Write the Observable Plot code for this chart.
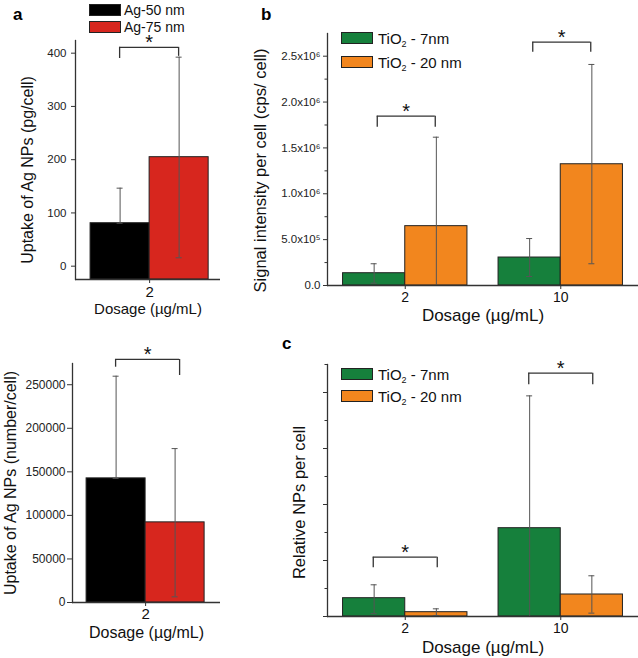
<!DOCTYPE html>
<html><head><meta charset="utf-8">
<script src="https://cdn.jsdelivr.net/npm/d3@7"></script>
<script src="https://cdn.jsdelivr.net/npm/@observablehq/plot@0.6"></script>
<style>
body{margin:0;background:#fff;font-family:"Liberation Sans",Arial,sans-serif}
#fig{position:relative;width:638px;height:658px;overflow:hidden;background:#fff}
.lab{position:absolute;font-weight:bold;font-size:17px;line-height:1;color:#000}
.sw{position:absolute;box-sizing:border-box;border:1px solid #222}
.lt{position:absolute;line-height:1;white-space:nowrap;color:#111;transform:translateY(-50%)}
.lt sub{font-size:9px;line-height:0;vertical-align:-3px}
</style></head><body><div id="fig"></div>
<script>
// ---------------- data ----------------
const agDoses = ["2"];
const agSizes = ["Ag-50 nm", "Ag-75 nm"];
const massPerCell = [80.7, 204.7];          // pg/cell
const massErrHigh = [146.5, 392.5];
const massErrLow = [80.7, 15.8];
const numberPerCell = [142500, 92000];      // number/cell
const numberErrHigh = [259800, 176700];
const numberErrLow = [142500, 6500];

const tioDoses = ["2", "10"];
const tioSizes = ["TiO₂ - 7nm", "TiO₂ - 20 nm"];
const signal7 = [0.134e6, 0.305e6];
const signal7High = [0.237e6, 0.512e6];
const signal7Low = [0.025e6, 0.098e6];
const signal20 = [0.647e6, 1.322e6];
const signal20High = [1.617e6, 2.41e6];
const signal20Low = [0, 0.237e6];
const rel7 = [0.327, 1.577];
const rel7High = [0.566, 3.94];
const rel7Low = [0.05, 0];
const rel20 = [0.077, 0.393];
const rel20High = [0.137, 0.727];
const rel20Low = [0.018, 0.06];

const massTicks = [0, 100, 200, 300, 400];
const numberTicks = [0, 50000, 100000, 150000, 200000, 250000];
const signalTicks = [0, 0.5e6, 1e6, 1.5e6, 2e6, 2.5e6];
const signalTickLabels = ["0.0", "5.0x10⁵", "1.0x10⁶", "1.5x10⁶", "2.0x10⁶", "2.5x10⁶"];
const signalMinor = [0.25e6, 0.75e6, 1.25e6, 1.75e6, 2.25e6];
const relTicks = [0, 1, 2, 3, 4];
const relMinor = [0.5, 1.5, 2.5, 3.5, 4.5];

const massBrackets = [{dose: "2", top: 411, leftEnd: 390, rightEnd: 394}];
const numberBrackets = [{dose: "2", top: 279000, leftEnd: 270100, rightEnd: 260600}];
const signalBrackets = [
  {dose: "2", top: 1.846e6, leftEnd: 1.726e6, rightEnd: 1.726e6},
  {dose: "10", top: 2.653e6, leftEnd: 2.544e6, rightEnd: 2.544e6}
];
const relBrackets = [
  {dose: "2", top: 1.059, leftEnd: 0.87, rightEnd: 0.87},
  {dose: "10", top: 4.345, leftEnd: 4.137, rightEnd: 4.137}
];

const xTitle = "Dosage (µg/mL)";

// ---------------- styles ----------------
const agColors = ["#000000", "#d7261e"];
const tioColors = ["#16803c", "#f2861e"];
const AX = "#333";
const FONT = "'Liberation Sans', Arial, sans-serif";

const fig = document.getElementById("fig");
function place(node, left, top) {
  node.style.position = "absolute";
  node.style.left = left + "px";
  node.style.top = top + "px";
  fig.appendChild(node);
}

function panel(c) {
  const band = d3.scaleBand().domain(c.doses).range([c.ml, c.width])
    .paddingInner(c.pi).paddingOuter(c.po).align(c.align);
  const bw = band.bandwidth();
  const marks = [];
  c.series.forEach((s, si) => {
    const data = c.doses.map((dose, i) => ({dose, value: s.values[i], hi: s.hi[i], lo: s.lo[i]}));
    const off = si === 0 ? -bw / 4 : bw / 4;
    marks.push(Plot.barY(data, {
      x: "dose", y1: c.yMin, y2: "value", fill: c.colors[si], stroke: "#222", strokeWidth: 1,
      insetLeft: si === 0 ? 0 : bw / 2, insetRight: si === 0 ? bw / 2 : 0
    }));
    marks.push(Plot.ruleX(data, {x: "dose", y1: "lo", y2: "hi", dx: off, stroke: "#555", strokeWidth: 1}));
    const capL = bw / 2 + off - 3, capR = bw / 2 - off - 3;
    marks.push(Plot.tickY(data, {x: "dose", y: "hi", insetLeft: capL, insetRight: capR, stroke: "#555", strokeWidth: 1}));
    marks.push(Plot.tickY(data, {x: "dose", y: "lo", insetLeft: capL, insetRight: capR, stroke: "#555", strokeWidth: 1}));
  });
  const [lL, lR] = c.legs;
  marks.push(Plot.tickY(c.brackets, {x: "dose", y: "top", insetLeft: bw / 2 + lL, insetRight: bw / 2 - lR, stroke: AX, strokeWidth: 1.3}));
  marks.push(Plot.ruleX(c.brackets, {x: "dose", y1: "leftEnd", y2: "top", dx: lL, stroke: AX, strokeWidth: 1.3}));
  marks.push(Plot.ruleX(c.brackets, {x: "dose", y1: "rightEnd", y2: "top", dx: lR, stroke: AX, strokeWidth: 1.3}));
  marks.push(Plot.text(c.brackets, {x: "dose", y: "top", text: () => "*", dx: (lL + lR) / 2, dy: -5, fontSize: 20, fill: "#111"}));
  // axes
  marks.push(Plot.ruleY([c.yMin], {stroke: AX, strokeWidth: 1.3}));
  marks.push(Plot.frame({anchor: "left", stroke: AX, strokeWidth: 1.3}));
  marks.push(Plot.axisY({ticks: c.yTicks, tickSize: c.yTickSize, tickPadding: c.yTickPad, fontSize: c.yFont,
    tickFormat: c.yFormat, label: null, stroke: AX, fill: "#222"}));
  if (c.yMinor) marks.push(Plot.axisY({ticks: c.yMinor, tickSize: 2.5, tickFormat: () => "", label: null, stroke: AX}));
  marks.push(Plot.axisX({tickSize: 4, tickPadding: c.xTickPad, fontSize: c.xFont, label: null, stroke: AX, fill: "#111"}));
  marks.push(Plot.text([c.yTitle], {text: d => d, frameAnchor: "left", textAnchor: "middle", lineAnchor: "middle",
    rotate: -90, dx: c.yTitleDx, dy: c.yTitleDy, fontSize: c.yTitleFont, fill: "#111"}));
  marks.push(Plot.text([xTitle], {text: d => d, frameAnchor: "bottom", textAnchor: "middle", lineAnchor: "middle",
    dy: c.xTitleDy, fontSize: c.xTitleFont, fill: "#111"}));

  const svg = Plot.plot({
    width: c.width, height: c.height,
    marginLeft: c.ml, marginRight: 0, marginTop: c.mt, marginBottom: c.mb,
    x: {domain: c.doses, paddingInner: c.pi, paddingOuter: c.po, align: c.align, round: false},
    y: {domain: c.yDomain, round: false},
    style: {background: "none", overflow: "visible", color: AX, fontFamily: FONT},
    marks
  });
  place(svg, c.left, c.top);
}

// panel a (top)
panel({
  left: 0, top: 0, width: 220, height: 320, ml: 75, mt: 40, mb: 41,
  doses: agDoses, pi: 0, po: 0.114, align: 0.56,
  yDomain: [-25, 423.8], yMin: -25,
  colors: agColors,
  series: [
    {values: [massPerCell[0]], hi: [massErrHigh[0]], lo: [massErrLow[0]]},
    {values: [massPerCell[1]], hi: [massErrHigh[1]], lo: [massErrLow[1]]}
  ],
  brackets: massBrackets, legs: [-30, 29],
  yTicks: massTicks, yFormat: d => String(d), yTickSize: 4, yTickPad: 5, yFont: 11.5,
  xFont: 15, xTickPad: 3,
  yTitle: "Uptake of Ag NPs (pg/cell)", yTitleDx: -48, yTitleDy: 10, yTitleFont: 16,
  xTitleDy: 30, xTitleFont: 15
});

// panel a (bottom)
panel({
  left: 0, top: 320, width: 220, height: 338, ml: 72, mt: 43, mb: 56,
  doses: agDoses, pi: 0, po: 0.127, align: 0.47,
  yDomain: [0, 274370], yMin: 0,
  colors: agColors,
  series: [
    {values: [numberPerCell[0]], hi: [numberErrHigh[0]], lo: [numberErrLow[0]]},
    {values: [numberPerCell[1]], hi: [numberErrHigh[1]], lo: [numberErrLow[1]]}
  ],
  brackets: numberBrackets, legs: [-30, 34],
  yTicks: numberTicks, yFormat: d => String(d), yTickSize: 5, yTickPad: 2, yFont: 12,
  xFont: 15, xTickPad: 2,
  yTitle: "Uptake of Ag NPs (number/cell)", yTitleDx: -62, yTitleDy: 0, yTitleFont: 16,
  xTitleDy: 30, xTitleFont: 16
});

// panel b
panel({
  left: 220, top: 0, width: 418, height: 320, ml: 107, mt: 33, mb: 35,
  doses: tioDoses, pi: 0.2, po: 0.1, align: 0.5,
  yDomain: [0, 2.7475e6], yMin: 0,
  colors: tioColors,
  series: [
    {values: signal7, hi: signal7High, lo: signal7Low},
    {values: signal20, hi: signal20High, lo: signal20Low}
  ],
  brackets: signalBrackets, legs: [-28, 30],
  yTicks: signalTicks, yFormat: d => signalTickLabels[signalTicks.indexOf(d)], yTickSize: 4, yTickPad: 3, yFont: 11.5,
  yMinor: signalMinor,
  xFont: 14, xTickPad: 3,
  yTitle: "Signal intensity per cell (cps/ cell)", yTitleDx: -67, yTitleDy: 11, yTitleFont: 16.5,
  xTitleDy: 30, xTitleFont: 17
});

// panel c
panel({
  left: 220, top: 320, width: 418, height: 338, ml: 107, mt: 44, mb: 42,
  doses: tioDoses, pi: 0.2, po: 0.1, align: 0.5,
  yDomain: [0, 4.5], yMin: 0,
  colors: tioColors,
  series: [
    {values: rel7, hi: rel7High, lo: rel7Low},
    {values: rel20, hi: rel20High, lo: rel20Low}
  ],
  brackets: relBrackets, legs: [-32, 32],
  yTicks: relTicks, yFormat: () => "", yTickSize: 4, yTickPad: 3, yFont: 11,
  yMinor: relMinor,
  xFont: 14, xTickPad: 3,
  yTitle: "Relative NPs per cell", yTitleDx: -28, yTitleDy: 12, yTitleFont: 16.5,
  xTitleDy: 31, xTitleFont: 17
});

// panel letters
[["a", 13, 6], ["b", 261, 6], ["c", 282, 335]].forEach(([t, x, y]) => {
  const d = document.createElement("div"); d.className = "lab"; d.textContent = t; place(d, x, y);
});

// legends
function legend(names, colors, x, tops, textX, fontSize) {
  names.forEach((n, i) => {
    const s = document.createElement("div"); s.className = "sw";
    s.style.width = "32px"; s.style.height = "12px"; s.style.background = colors[i];
    place(s, x, tops[i]);
    const t = document.createElement("div"); t.className = "lt"; t.style.fontSize = fontSize + "px";
    t.innerHTML = n.replace("₂", "<sub>2</sub>");
    place(t, textX, tops[i] + 6);
  });
}
legend(agSizes, agColors, 89, [4, 21], 124, 14);
legend(tioSizes, tioColors, 341, [32, 56], 378, 15);
legend(tioSizes, tioColors, 341, [368, 390], 378, 15);
</script>
</body></html>
